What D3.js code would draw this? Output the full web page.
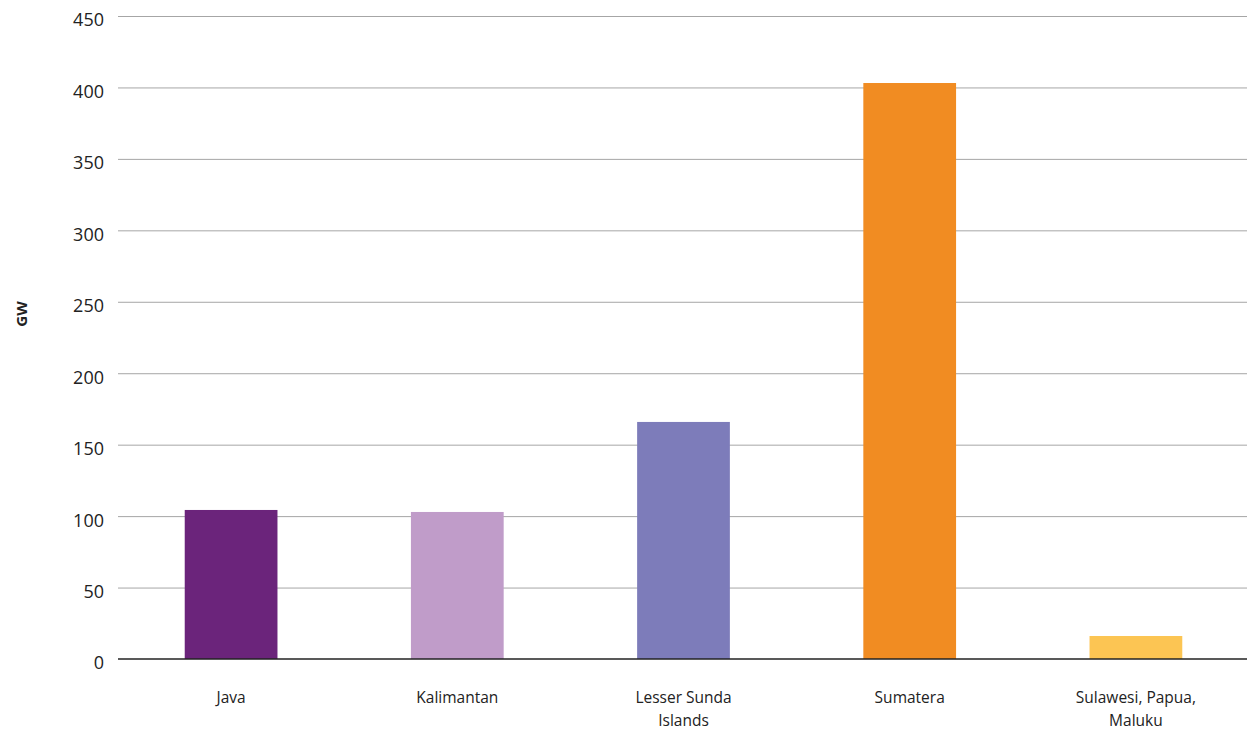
<!DOCTYPE html>
<html><head><meta charset="utf-8">
<script src="https://cdn.jsdelivr.net/npm/d3@7"></script>
<style>body{margin:0;background:#fff;} svg{display:block;} text{font-family:"Open Sans",sans-serif;}</style>
</head><body><svg id="c" width="1247" height="731"></svg>
<script>
const categories = ["Java", "Kalimantan", "Lesser Sunda Islands", "Sumatera", "Sulawesi, Papua, Maluku"];
const labelLines = [["Java"], ["Kalimantan"], ["Lesser Sunda", "Islands"], ["Sumatera"], ["Sulawesi, Papua,", "Maluku"]];
const values = [104.3, 102.9, 165.9, 403.1, 16.1];
const colors = ["#6b247b", "#c09cc9", "#7d7cba", "#f18c22", "#fcc553"];
const yTicks = [0, 50, 100, 150, 200, 250, 300, 350, 400, 450];

const svg = d3.select("#c");
const x = d3.scaleBand().domain(categories).range([118, 1249]).paddingInner(0.59).paddingOuter(0.295);
const y = d3.scaleLinear().domain([0, 450]).range([659, 16]);

const yAxis = svg.append("g").attr("transform", "translate(118,0)")
  .call(d3.axisLeft(y).tickValues(yTicks).tickSize(-1129).tickPadding(14));
yAxis.attr("font-family", null).attr("font-size", null);
yAxis.select(".domain").remove();
yAxis.selectAll(".tick line").attr("stroke", "#a6a6a6").attr("stroke-width", 1);
yAxis.selectAll(".tick text").attr("fill", "#222").attr("font-size", 18).attr("dy", "0.55em");
yAxis.selectAll(".tick").filter(d => d === 0).select("line").remove();

svg.append("g").selectAll("rect").data(values).join("rect")
  .attr("x", (d, i) => x(categories[i]))
  .attr("width", x.bandwidth())
  .attr("y", d => y(d))
  .attr("height", d => y(0) - y(d))
  .attr("fill", (d, i) => colors[i]);

const xAxis = svg.append("g").attr("transform", "translate(0,659)")
  .call(d3.axisBottom(x).tickSize(0).tickFormat(""));
xAxis.attr("font-family", null).attr("font-size", null);
xAxis.select(".domain").attr("stroke", "#222").attr("stroke-width", 1.5).attr("d", "M118,0H1247");

xAxis.selectAll(".tick").each(function(d, i) {
  const t = d3.select(this).append("text").attr("fill", "#222").attr("font-size", 15.5)
    .attr("text-anchor", "middle").attr("y", 44);
  labelLines[i].forEach((ln, j) => t.append("tspan").attr("x", 0).attr("dy", j === 0 ? 0 : 23).text(ln));
});

svg.append("text").attr("transform", "translate(27,314) rotate(-90)")
  .attr("text-anchor", "middle").attr("font-size", 15).attr("font-weight", "bold").attr("fill", "#222").text("GW");
</script></body></html>
